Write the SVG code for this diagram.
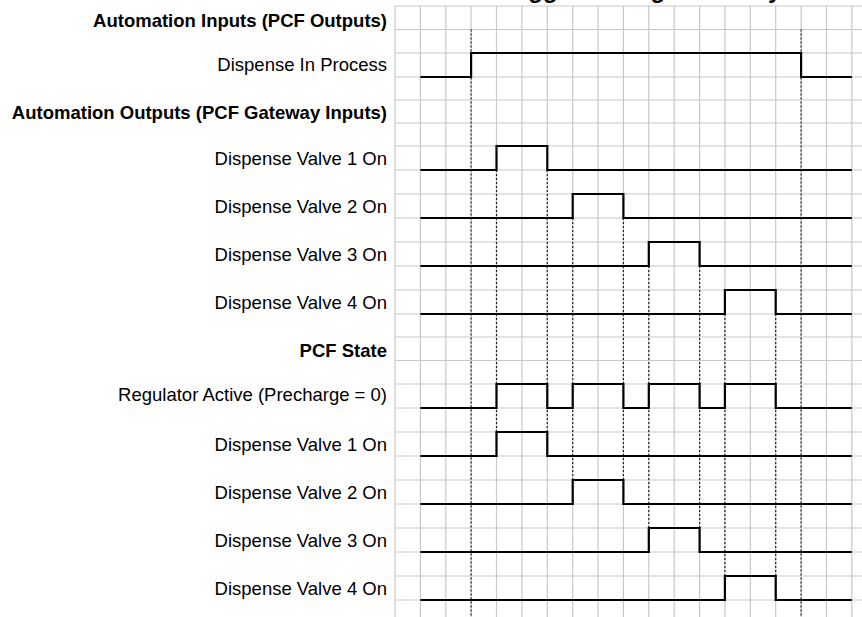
<svg xmlns="http://www.w3.org/2000/svg" width="862" height="617" viewBox="0 0 862 617">
<style>
.grid line{stroke:#c8c8c8;stroke-width:1.2}
.sig{fill:none;stroke:#000;stroke-width:2.2;stroke-linejoin:miter;stroke-linecap:butt}
.dot{stroke:#222;stroke-width:1.2;stroke-dasharray:2 2}
.lbl{font-family:"Liberation Sans",Arial,Helvetica,sans-serif;font-size:18.5px;fill:#000;text-anchor:end}
.hdr{font-weight:bold}
.title{font-family:"Liberation Sans",Arial,Helvetica,sans-serif;font-size:24px;font-weight:bold;fill:#000}
</style>
<rect width="862" height="617" fill="#fff"/>
<text class="title" x="499" y="-2">Trigger Timing Summary</text>
<g class="grid" id="grid">
<line x1="395" y1="6" x2="395" y2="617"/><line x1="420.4" y1="6" x2="420.4" y2="617"/><line x1="445.8" y1="6" x2="445.8" y2="617"/><line x1="471.1" y1="6" x2="471.1" y2="617"/><line x1="496.5" y1="6" x2="496.5" y2="617"/><line x1="521.9" y1="6" x2="521.9" y2="617"/><line x1="547.3" y1="6" x2="547.3" y2="617"/><line x1="572.7" y1="6" x2="572.7" y2="617"/><line x1="598" y1="6" x2="598" y2="617"/><line x1="623.4" y1="6" x2="623.4" y2="617"/><line x1="648.8" y1="6" x2="648.8" y2="617"/><line x1="674.2" y1="6" x2="674.2" y2="617"/><line x1="699.6" y1="6" x2="699.6" y2="617"/><line x1="724.9" y1="6" x2="724.9" y2="617"/><line x1="750.3" y1="6" x2="750.3" y2="617"/><line x1="775.7" y1="6" x2="775.7" y2="617"/><line x1="801.1" y1="6" x2="801.1" y2="617"/><line x1="826.5" y1="6" x2="826.5" y2="617"/><line x1="851.8" y1="6" x2="851.8" y2="617"/>
<line x1="395" y1="6" x2="862" y2="6"/><line x1="395" y1="29.5" x2="862" y2="29.5"/><line x1="395" y1="53" x2="862" y2="53"/><line x1="395" y1="77" x2="862" y2="77"/><line x1="395" y1="100" x2="862" y2="100"/><line x1="395" y1="123" x2="862" y2="123"/><line x1="395" y1="146" x2="862" y2="146"/><line x1="395" y1="170" x2="862" y2="170"/><line x1="395" y1="194" x2="862" y2="194"/><line x1="395" y1="218" x2="862" y2="218"/><line x1="395" y1="242" x2="862" y2="242"/><line x1="395" y1="266" x2="862" y2="266"/><line x1="395" y1="290" x2="862" y2="290"/><line x1="395" y1="314" x2="862" y2="314"/><line x1="395" y1="337" x2="862" y2="337"/><line x1="395" y1="360.5" x2="862" y2="360.5"/><line x1="395" y1="384" x2="862" y2="384"/><line x1="395" y1="408" x2="862" y2="408"/><line x1="395" y1="432" x2="862" y2="432"/><line x1="395" y1="456" x2="862" y2="456"/><line x1="395" y1="480" x2="862" y2="480"/><line x1="395" y1="504" x2="862" y2="504"/><line x1="395" y1="528" x2="862" y2="528"/><line x1="395" y1="552" x2="862" y2="552"/><line x1="395" y1="576" x2="862" y2="576"/><line x1="395" y1="600" x2="862" y2="600"/>
</g>
<g id="connectors">
<line class="dot" x1="471.1" y1="29.5" x2="471.1" y2="617"/>
<line class="dot" x1="801.1" y1="29.5" x2="801.1" y2="617"/>
<line class="dot" x1="496.5" y1="170" x2="496.5" y2="456"/>
<line class="dot" x1="547.3" y1="170" x2="547.3" y2="456"/>
<line class="dot" x1="572.7" y1="218" x2="572.7" y2="504"/>
<line class="dot" x1="623.4" y1="218" x2="623.4" y2="504"/>
<line class="dot" x1="648.8" y1="266" x2="648.8" y2="552"/>
<line class="dot" x1="699.6" y1="266" x2="699.6" y2="552"/>
<line class="dot" x1="724.9" y1="314" x2="724.9" y2="600"/>
<line class="dot" x1="775.7" y1="314" x2="775.7" y2="600"/>
</g>
<g id="hdr-inputs"><text class="lbl hdr" x="387" y="26.5">Automation Inputs (PCF Outputs)</text></g>
<g id="dispense-in-process">
<text class="lbl" x="387" y="71">Dispense In Process</text>
<path class="sig" d="M420.4,77 H471.1 V53 H801.1 V77 H851.8"/>
</g>
<g id="hdr-outputs"><text class="lbl hdr" x="387" y="119">Automation Outputs (PCF Gateway Inputs)</text></g>
<g id="auto-valve1">
<text class="lbl" x="387" y="164.5">Dispense Valve 1 On</text>
<path class="sig" d="M420.4,170 H496.5 V146 H547.3 V170 H851.8"/>
</g>
<g id="auto-valve2">
<text class="lbl" x="387" y="212.5">Dispense Valve 2 On</text>
<path class="sig" d="M420.4,218 H572.7 V194 H623.4 V218 H851.8"/>
</g>
<g id="auto-valve3">
<text class="lbl" x="387" y="260.5">Dispense Valve 3 On</text>
<path class="sig" d="M420.4,266 H648.8 V242 H699.6 V266 H851.8"/>
</g>
<g id="auto-valve4">
<text class="lbl" x="387" y="308.5">Dispense Valve 4 On</text>
<path class="sig" d="M420.4,314 H724.9 V290 H775.7 V314 H851.8"/>
</g>
<g id="hdr-pcf"><text class="lbl hdr" x="387" y="357">PCF State</text></g>
<g id="regulator-active">
<text class="lbl" x="387" y="401">Regulator Active (Precharge = 0)</text>
<path class="sig" d="M420.4,408 H496.5 V384 H547.3 V408 H572.7 V384 H623.4 V408 H648.8 V384 H699.6 V408 H724.9 V384 H775.7 V408 H851.8"/>
</g>
<g id="pcf-valve1">
<text class="lbl" x="387" y="450.5">Dispense Valve 1 On</text>
<path class="sig" d="M420.4,456 H496.5 V432 H547.3 V456 H851.8"/>
</g>
<g id="pcf-valve2">
<text class="lbl" x="387" y="498.5">Dispense Valve 2 On</text>
<path class="sig" d="M420.4,504 H572.7 V480 H623.4 V504 H851.8"/>
</g>
<g id="pcf-valve3">
<text class="lbl" x="387" y="546.5">Dispense Valve 3 On</text>
<path class="sig" d="M420.4,552 H648.8 V528 H699.6 V552 H851.8"/>
</g>
<g id="pcf-valve4">
<text class="lbl" x="387" y="594.5">Dispense Valve 4 On</text>
<path class="sig" d="M420.4,600 H724.9 V576 H775.7 V600 H851.8"/>
</g>
</svg>
